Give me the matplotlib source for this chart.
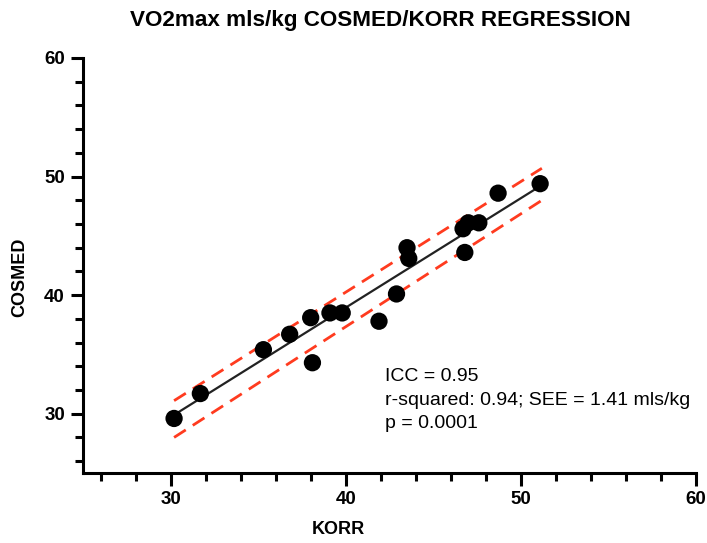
import numpy as np
import matplotlib
matplotlib.use("Agg")
import matplotlib.pyplot as plt
from matplotlib.ticker import MultipleLocator

plt.rcParams['font.family'] = ['Liberation Sans', 'DejaVu Sans']

# values
korr = [30.2, 31.7, 35.3, 36.8, 38.0, 38.1, 39.1, 39.8, 41.9, 42.9,
        43.5, 43.6, 46.8, 46.7, 47.0, 47.6, 48.7, 51.1]
cosmed = [29.6, 31.7, 35.4, 36.7, 38.1, 34.3, 38.5, 38.5, 37.8, 40.1,
          44.0, 43.1, 43.6, 45.6, 46.1, 46.1, 48.6, 49.4]

fit_x = [30.2, 51.0]
fit_y = [29.9, 49.1]
ci_x = [30.2, 51.2]
ci_upper = [31.1, 50.7]
ci_lower = [28.0, 48.0]

stats = ["ICC = 0.95", "r-squared: 0.94; SEE = 1.41 mls/kg", "p = 0.0001"]

fig = plt.figure(figsize=(7.07, 5.43), dpi=100)
ax = fig.add_axes([83/707, 1-473/543, (696-83)/707, (473-58)/543])

red = '#ff3b1f'
ax.plot(ci_x, ci_upper, color=red, lw=2, dashes=(5, 3), zorder=2)
ax.plot(ci_x, ci_lower, color=red, lw=2, dashes=(5, 3), zorder=2)
ax.plot(fit_x, fit_y, color='#222222', lw=1.6, zorder=3)
ax.scatter(korr, cosmed, s=155, color='black', zorder=4, edgecolors='none')

ax.set_xlim(25, 60)
ax.set_ylim(25, 60)
ax.xaxis.set_minor_locator(MultipleLocator(2))
ax.yaxis.set_minor_locator(MultipleLocator(2))
ax.set_xticks([30, 40, 50, 60])
ax.set_yticks([30, 40, 50, 60])

for s in ['top', 'right']:
    ax.spines[s].set_visible(False)
for s in ['left', 'bottom']:
    ax.spines[s].set_linewidth(2.2)
ax.tick_params(which='major', length=9, width=2.2, pad=4, labelsize=13.5)
ax.tick_params(which='minor', length=5.5, width=2.2)
for lab in ax.get_xticklabels() + ax.get_yticklabels():
    lab.set_fontweight('bold')

ys = [33.1, 31.15, 29.15]
for t, y in zip(stats, ys):
    ax.text(42.25, y, t, fontsize=14, va='center', ha='left')

fig.text(0.538, 0.962, "VO2max mls/kg COSMED/KORR REGRESSION",
         ha='center', va='center', fontsize=16.2, fontweight='bold')
fig.text(20/707, 1-277/543, "COSMED", rotation=90, ha='center', va='center',
         fontsize=13, fontweight='bold')
fig.text(338/707, 1-530/543, "KORR", ha='center', va='center',
         fontsize=13, fontweight='bold')

fig.savefig("out.png", dpi=100)
